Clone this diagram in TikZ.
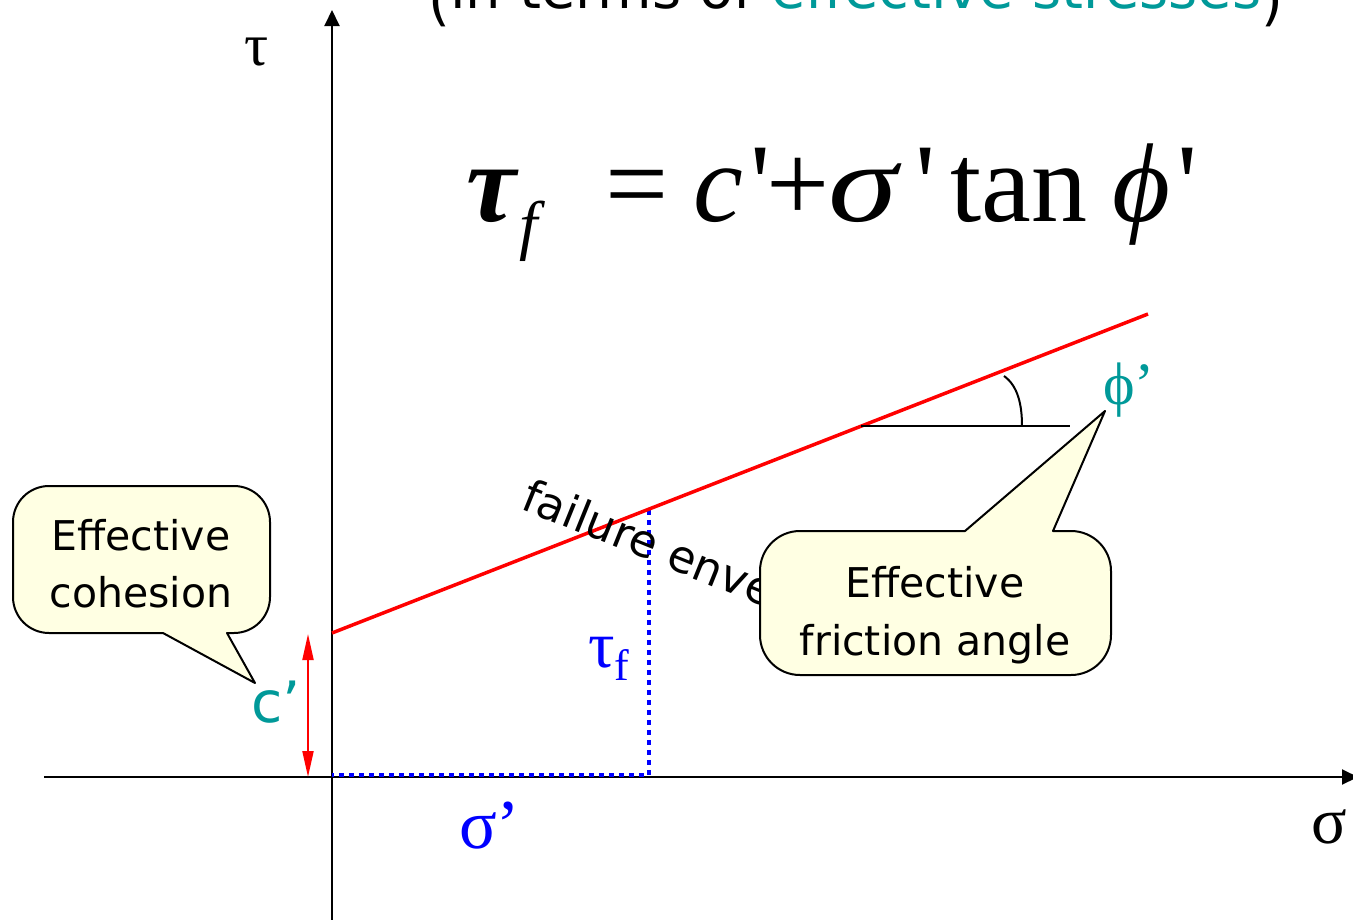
\documentclass[tikz,border=0pt]{standalone}
\usepackage{fontspec}
\setmainfont{Liberation Serif}
\newfontfamily\sansf{DejaVu Sans}
\usetikzlibrary{arrows.meta}
\definecolor{tealc}{HTML}{009999}
\definecolor{callfill}{HTML}{FFFFE3}
\newcommand\fsz[1]{\fontsize{#1pt}{#1pt}\selectfont}

\begin{document}
\begin{tikzpicture}[x=1pt,y=-1pt,
  axis/.style={line width=2pt, -{Triangle[length=16pt,width=15pt]}},
  callout/.style={draw=black, line width=2pt, fill=callfill, line join=round},
  calltext/.style={font=\sansf\fsz{41}, inner sep=0pt, anchor=base},
  lbl/.style={inner sep=0pt, anchor=base west},
  eq/.style={inner sep=0pt, anchor=base west, font=\fsz{112}},
  bluedot/.style={blue, line width=4pt, dash pattern=on 5pt off 5pt},
]
\useasboundingbox (0,0) rectangle (1353,919);
\clip (0,0) rectangle (1353,919);
\fill[white] (0,0) rectangle (1353,919);

% title (cut off at the top)
\node[anchor=base, font=\sansf\fsz{56}, inner sep=0pt] (title) at (856,8)
  {\raisebox{-11pt}{(}in terms of \textcolor{tealc}{effective stresses}\raisebox{-11pt}{)}};

% axes
\coordinate (ybot) at (332,922);
\coordinate (ytop) at (332,10);
\coordinate (xl) at (44,777);
\coordinate (xr) at (1358,777);
\draw[axis] (ybot) -- (ytop);
\draw[axis] (xl) -- (xr);

% dotted construction lines
\coordinate (P) at (649,510);
\coordinate (Px) at (649,775);
\coordinate (Oy) at (332,775);
\draw[bluedot] (P) -- (Px) -- (Oy);

% failure envelope
\coordinate (A) at (332,633);
\coordinate (B) at (1148,314);
\draw[red, line width=3.5pt] (A) -- (B);
\node[lbl, font=\sansf\fsz{45}, rotate=-22] (fail) at (519,508) {failure envelope};

% friction angle mark
\coordinate (V) at (861,426);
\coordinate (H) at (1070,426);
\coordinate (arcA) at (1004,376);
\coordinate (arcB) at (1022,426);
\draw[line width=2pt] (V) -- (H);
\draw[line width=2pt] (arcA) .. controls (1018,386) and (1022,405) .. (arcB);

% c' double arrow
\coordinate (cT) at (308,634);
\coordinate (cB) at (308,777);
\draw[red, line width=2pt, {Triangle[length=26pt,width=11pt]}-{Triangle[length=26pt,width=11pt]}] (cT) -- (cB);

% callout: effective cohesion
\draw[callout] (227,633) [rounded corners=36pt] -- (270,633) -- (270,486) -- (13,486) -- (13,633) [sharp corners] -- (163,633) -- (255,683) -- cycle;
\node[calltext] (coh1) at (141,550) {Effective};
\node[calltext] (coh2) at (141,607) {cohesion};

% callout: effective friction angle
\draw[callout] (1053,531) [rounded corners=40pt] -- (1111,531) -- (1111,675) -- (760,675) -- (760,531) [sharp corners] -- (965,531) -- (1105,411) -- cycle;
\node[calltext] (fr1) at (935,597) {Effective};
\node[calltext] (fr2) at (935,655) {friction angle};

% labels
\node[lbl, font=\fsz{60}] (taxis) at (244,65) {τ};
\node[lbl, font=\fsz{66}] (saxis) at (1311,843) {σ};
\node[lbl, font=\sansf\fsz{57}, text=tealc] (cl) at (251,722) {c’};
\node[lbl, font=\fsz{60}, text=tealc] (phl) at (1103,404) {ϕ’};
\node[lbl, font=\fsz{66}, text=blue] (tf) at (588,667) {τ\raisebox{-13pt}{\fsz{44}f}};
\node[lbl, font=\fsz{70}, text=blue] (sp) at (459,848) {σ’};

% equation
\node[eq] (e1) at (466,221) {\bfseries\itshape τ};
\node[eq, font=\fsz{66}] (e2) at (519,247) {\itshape f};
\node[eq] (e3) at (605,221) {=};
\node[eq] (e4) at (693,221) {\itshape c};
\node[eq] (e5) at (750,221) {\textquotesingle};
\node[eq] (e6) at (766,221) {+};
\node[eq] (e7) at (828,221) {\scalebox{1.25}[1]{\itshape σ}};
\node[eq] (e8) at (915,221) {\textquotesingle};
\node[eq] (e9) at (950,221) {tan};
\node[eq] (e10) at (1112,221) {\itshape ϕ};
\node[eq] (e11) at (1177,221) {\textquotesingle};
\end{tikzpicture}
\end{document}
